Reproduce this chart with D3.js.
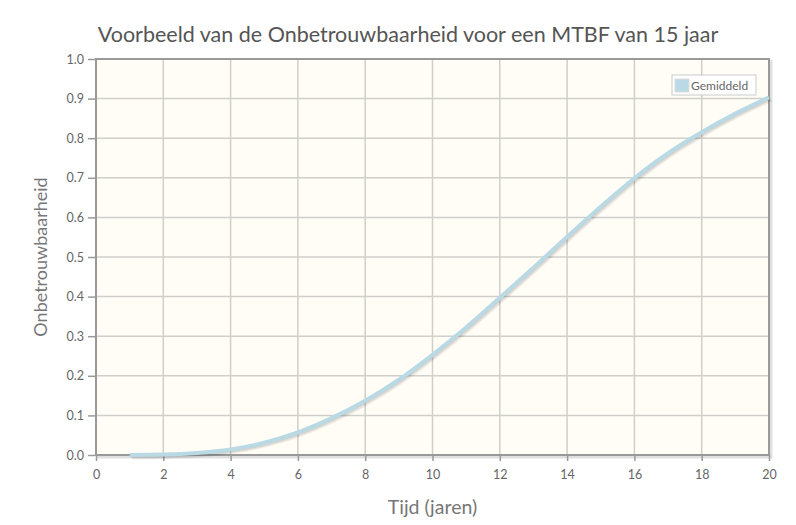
<!DOCTYPE html>
<html>
<head>
<meta charset="utf-8">
<script src="https://cdn.jsdelivr.net/npm/d3@7"></script>
<style>
  body { margin: 0; background: #fff; }
  svg text { font-family: "Lato", "Open Sans", sans-serif; }
</style>
</head>
<body>
<div id="chart-area"></div>
<script>
// data
var years = [1, 2, 3, 4, 5, 6, 7, 8, 9, 10, 11, 12, 13, 14, 15, 16, 17, 18, 19, 20];
var unreliability = [0.0, 0.001, 0.005, 0.014, 0.031, 0.057, 0.093, 0.137, 0.19, 0.253,
                     0.322, 0.397, 0.473, 0.551, 0.627, 0.699, 0.762, 0.815, 0.862, 0.903];
var xTicks = [0, 2, 4, 6, 8, 10, 12, 14, 16, 18, 20];
var yTicks = [0.0, 0.1, 0.2, 0.3, 0.4, 0.5, 0.6, 0.7, 0.8, 0.9, 1.0];
var seriesName = "Gemiddeld";

var margin = {left: 96, right: 27, top: 59, bottom: 70};
var width = 796 - margin.left - margin.right,
    height = 525 - margin.top - margin.bottom;

var svg = d3.select("#chart-area")
    .append("svg")
    .attr("width", 796)
    .attr("height", 525);

var g = svg.append("g")
    .attr("transform", "translate(" + margin.left + "," + margin.top + ")");

var x = d3.scaleLinear().domain([0, 20]).range([0, width]);
var y = d3.scaleLinear().domain([0, 1]).range([height, 0]);

// title
svg.append("text")
    .attr("x", 408)
    .attr("y", 42)
    .attr("text-anchor", "middle")
    .style("font-size", "21.5px")
    .attr("fill", "#555")
    .text("Voorbeeld van de Onbetrouwbaarheid voor een MTBF van 15 jaar");

// plot background with shadow
g.append("rect")
    .attr("x", 2).attr("y", 2)
    .attr("width", width).attr("height", height)
    .attr("fill", "none")
    .attr("stroke", "rgba(0,0,0,0.12)")
    .attr("stroke-width", 3);
g.append("rect")
    .attr("width", width).attr("height", height)
    .attr("fill", "#fffdf6");

// grid
g.append("g")
    .selectAll("line")
    .data(xTicks.slice(1, -1))
    .enter().append("line")
    .attr("x1", function(d) { return x(d); })
    .attr("x2", function(d) { return x(d); })
    .attr("y1", 0).attr("y2", height)
    .attr("stroke", "#d0cfca").attr("stroke-width", 1.5);
g.append("g")
    .selectAll("line")
    .data(yTicks.slice(1, -1))
    .enter().append("line")
    .attr("y1", function(d) { return y(d); })
    .attr("y2", function(d) { return y(d); })
    .attr("x1", 0).attr("x2", width)
    .attr("stroke", "#d0cfca").attr("stroke-width", 1.5);

// border
g.append("rect")
    .attr("width", width).attr("height", height)
    .attr("fill", "none")
    .attr("stroke", "#999")
    .attr("stroke-width", 2);

// axes
var xAxis = g.append("g")
    .attr("transform", "translate(0," + height + ")")
    .call(d3.axisBottom(x).tickValues(xTicks).tickSize(6).tickPadding(9).tickFormat(d3.format("d")));
var yAxis = g.append("g")
    .call(d3.axisLeft(y).tickValues(yTicks).tickSize(7).tickPadding(5).tickFormat(d3.format(".1f")));
[xAxis, yAxis].forEach(function(ax) {
    ax.select(".domain").remove();
    ax.selectAll(".tick line").attr("stroke", "#999").attr("stroke-width", 1.5);
    ax.selectAll("text").attr("fill", "#666").style("font-size", "12.5px");
});
yAxis.selectAll(".tick line").attr("transform", "translate(-1,0)");

// axis labels
svg.append("text")
    .attr("x", margin.left + width / 2)
    .attr("y", 514)
    .attr("text-anchor", "middle")
    .style("font-size", "19.5px")
    .attr("fill", "#777")
    .text("Tijd (jaren)");
svg.append("text")
    .attr("transform", "translate(47," + (margin.top + height / 2) + ") rotate(-90)")
    .attr("text-anchor", "middle")
    .style("font-size", "18px")
    .attr("fill", "#777")
    .text("Onbetrouwbaarheid");

// line with shadow
var pts = years.map(function(d, i) { return [d, unreliability[i]]; });
var line = d3.line()
    .x(function(d) { return x(d[0]); })
    .y(function(d) { return y(d[1]); })
    .curve(d3.curveMonotoneX);

[3, 2, 1].forEach(function(k) {
    g.append("path")
        .datum(pts)
        .attr("d", line)
        .attr("transform", "translate(" + (k * 0.8) + "," + (k * 0.8) + ")")
        .attr("fill", "none")
        .attr("stroke", "rgba(0,0,0,0.06)")
        .attr("stroke-width", 4);
});
g.append("path")
    .datum(pts)
    .attr("d", line)
    .attr("fill", "none")
    .attr("stroke", "#b9d9e5")
    .attr("stroke-width", 4)
    .attr("stroke-linejoin", "round");

// legend
var lg = g.append("g").attr("transform", "translate(" + (width - 97) + ",16)");
lg.append("rect")
    .attr("width", 84).attr("height", 20)
    .attr("fill", "#fff")
    .attr("stroke", "#ccc");
lg.append("rect")
    .attr("x", 3).attr("y", 4)
    .attr("width", 14).attr("height", 13)
    .attr("fill", "#b9d9e5")
    .attr("stroke", "#ddd");
lg.append("text")
    .attr("x", 19).attr("y", 14.5)
    .style("font-size", "12px")
    .attr("fill", "#666")
    .text(seriesName);
</script>
</body>
</html>
